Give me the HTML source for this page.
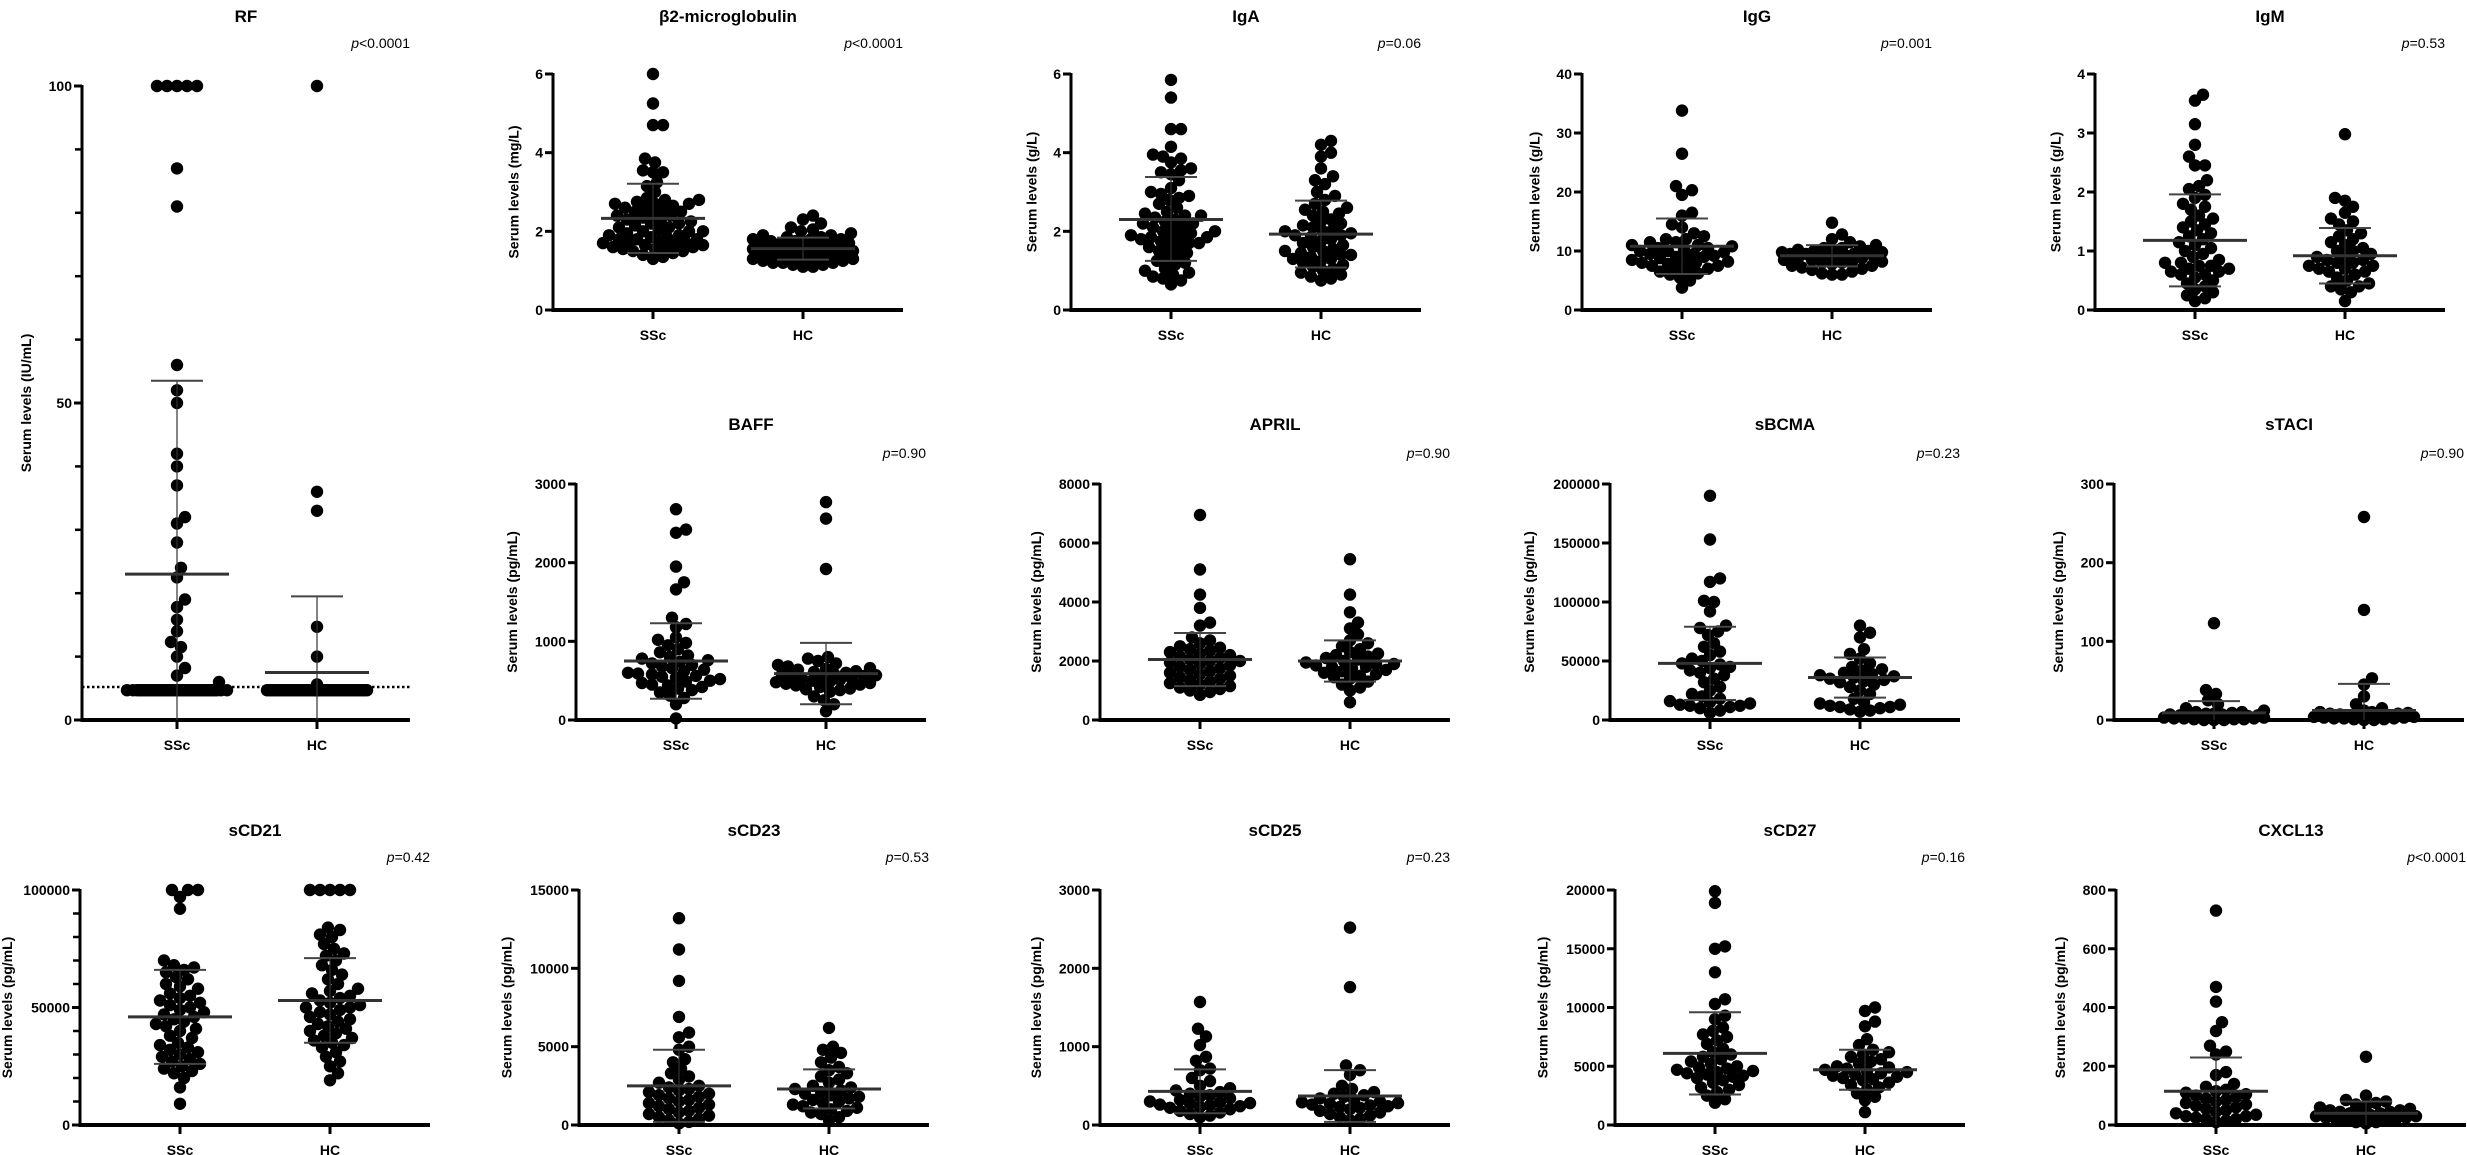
<!DOCTYPE html>
<html><head><meta charset="utf-8"><title>Serum levels SSc vs HC</title>
<style>
html,body{margin:0;padding:0;background:#fff;}
svg{display:block;font-family:"Liberation Sans",Arial,sans-serif;}
.t{font-weight:bold;font-size:17px;text-anchor:middle;}
.p{font-size:14px;text-anchor:end;}
.tk{font-weight:bold;font-size:14px;text-anchor:end;}
.cat{font-weight:bold;font-size:14px;text-anchor:middle;}
.yl{font-weight:bold;font-size:14px;text-anchor:middle;}
</style></head>
<body>
<svg id="fig" width="2467" height="1155" viewBox="0 0 2467 1155" xmlns="http://www.w3.org/2000/svg"></svg>
<script>
// ---------- data ----------
const groups = ["SSc","HC"];
const rf_SSc = [100,100,100,100,100,87,81,56,52,50,42,40,37,32,31,28,24,22.5,19,17.8,15.8,14,12.3,11.5,10,8.2,7,6,4.7,4.7,4.7,4.7,4.7,4.7,4.7,4.7,4.7,4.7,4.7,4.7,4.7,4.7,4.7,4.7,4.7,4.7,4.7,4.7,4.7,4.7,4.7,4.7,4.7,4.7,4.7,4.7,4.7,4.7,4.7,4.7,4.7,4.7,4.7,4.7,4.7,4.7,4.7,4.7,4.7,4.7,4.7,4.7,4.7];
const rf_HC = [100,36,33,14.7,10,5.6,4.7,4.7,4.7,4.7,4.7,4.7,4.7,4.7,4.7,4.7,4.7,4.7,4.7,4.7,4.7,4.7,4.7,4.7,4.7,4.7,4.7,4.7,4.7,4.7,4.7,4.7,4.7,4.7,4.7,4.7,4.7,4.7,4.7,4.7,4.7,4.7,4.7,4.7,4.7,4.7,4.7,4.7,4.7,4.7,4.7,4.7,4.7,4.7,4.7,4.7,4.7,4.7,4.7,4.7,4.7,4.7,4.7,4.7,4.7,4.7];
const b2_SSc = [6.0,5.25,4.7,4.7,3.85,3.75,3.55,3.5,3.5,3.25,3.15,3.0,2.85,2.8,2.8,2.75,2.7,2.7,2.7,2.65,2.6,2.6,2.55,2.5,2.5,2.45,2.4,2.4,2.35,2.3,2.3,2.25,2.2,2.2,2.15,2.1,2.1,2.05,2.0,2.0,2.0,1.95,1.9,1.9,1.85,1.85,1.8,1.8,1.8,1.75,1.75,1.7,1.7,1.7,1.65,1.65,1.6,1.6,1.6,1.55,1.55,1.5,1.5,1.45,1.4,1.35,1.3];
const b2_HC = [2.4,2.3,2.2,2.1,2.05,2.0,1.95,1.9,1.9,1.85,1.85,1.8,1.8,1.8,1.75,1.75,1.75,1.7,1.7,1.7,1.7,1.65,1.65,1.65,1.6,1.6,1.6,1.6,1.55,1.55,1.55,1.5,1.5,1.5,1.5,1.45,1.45,1.45,1.4,1.4,1.4,1.4,1.35,1.35,1.35,1.3,1.3,1.3,1.3,1.25,1.25,1.2,1.2,1.2,1.15,1.15,1.1,1.1];
const iga_SSc = [5.85,5.4,4.6,4.6,4.15,3.95,3.9,3.85,3.75,3.6,3.55,3.5,3.45,3.3,3.1,3.0,2.95,2.9,2.85,2.8,2.7,2.6,2.5,2.45,2.4,2.4,2.35,2.3,2.25,2.2,2.2,2.15,2.1,2.05,2.0,2.0,1.95,1.9,1.9,1.85,1.85,1.8,1.8,1.75,1.7,1.7,1.65,1.6,1.55,1.5,1.45,1.4,1.3,1.25,1.2,1.15,1.05,1.0,0.95,0.9,0.85,0.8,0.75,0.65];
const iga_HC = [4.3,4.2,4.0,3.9,3.6,3.4,3.3,3.2,3.0,2.9,2.8,2.7,2.6,2.55,2.5,2.45,2.4,2.3,2.25,2.2,2.15,2.1,2.05,2.0,2.0,1.95,1.9,1.9,1.85,1.8,1.75,1.7,1.65,1.6,1.55,1.5,1.5,1.45,1.4,1.4,1.35,1.3,1.3,1.25,1.2,1.15,1.1,1.05,1.0,0.95,0.9,0.85,0.8,0.75];
const igg_SSc = [33.8,26.5,21,20.3,19.5,16.5,16,14.5,14,13,12.5,12,12,11.5,11.5,11,11,10.8,10.5,10.5,10.2,10,10,9.8,9.5,9.5,9.2,9,9,8.8,8.5,8.5,8.2,8,8,7.8,7.5,7.5,7.2,7,6.8,6.5,6.2,6,5.5,5,3.8];
const igg_HC = [14.8,12.8,12,11.5,11,10.8,10.5,10.5,10.2,10,10,10,9.8,9.8,9.5,9.5,9.5,9.2,9.2,9,9,9,8.8,8.8,8.5,8.5,8.2,8.2,8,8,7.8,7.5,7.5,7.2,7,6.8,6.5,6.2,6,6];
const igm_SSc = [3.65,3.55,3.15,2.8,2.6,2.45,2.45,2.2,2.1,2.05,1.95,1.9,1.8,1.75,1.7,1.6,1.55,1.5,1.45,1.4,1.35,1.3,1.25,1.2,1.15,1.1,1.05,1.0,0.95,0.9,0.85,0.8,0.8,0.75,0.75,0.7,0.7,0.65,0.65,0.6,0.6,0.55,0.5,0.45,0.4,0.35,0.3,0.25,0.2,0.15];
const igm_HC = [2.98,1.9,1.85,1.75,1.65,1.55,1.5,1.45,1.35,1.3,1.25,1.2,1.15,1.1,1.05,1.0,1.0,0.95,0.9,0.9,0.85,0.85,0.8,0.8,0.75,0.75,0.7,0.7,0.65,0.65,0.6,0.55,0.5,0.45,0.4,0.4,0.35,0.3,0.15];
const baff_SSc = [2680,2420,2380,1950,1750,1660,1300,1220,1180,1050,1020,980,950,900,860,820,800,780,760,740,720,700,680,660,640,620,600,590,580,560,550,540,520,500,490,470,450,440,420,400,380,350,310,280,200,20];
const baff_HC = [2770,2560,1920,800,780,750,720,700,680,660,650,640,620,610,600,590,580,570,560,550,540,530,520,510,500,490,480,470,460,450,440,420,400,390,380,360,300,250,200,110];
const april_SSc = [6950,5100,4250,3800,3300,3200,2800,2700,2600,2500,2450,2400,2350,2300,2250,2200,2150,2100,2050,2000,2000,1950,1900,1850,1800,1750,1700,1650,1600,1550,1500,1450,1400,1350,1300,1250,1200,1150,1100,1050,1000,950,850];
const april_HC = [5450,4250,3650,3300,3100,2900,2700,2600,2500,2400,2300,2250,2200,2150,2100,2050,2000,1950,1900,1900,1850,1800,1800,1750,1700,1650,1600,1550,1500,1450,1400,1300,1200,1100,1000,600];
const bcma_SSc = [190000,153000,120000,117000,101000,100000,92000,80000,78000,75000,72000,65000,62000,58000,55000,52000,50000,48000,47000,45000,44000,42000,40000,38000,35000,32000,28000,25000,22000,20000,18000,16000,15000,14000,13000,12000,12000,11000,10000,8000,6000];
const bcma_HC = [80000,74000,70000,60000,56000,52000,48000,45000,43000,42000,40000,39000,38000,37000,36000,35000,34000,33000,32000,30000,28000,25000,22000,18000,15000,14000,13000,12000,11000,11000,10000,9000,8000,7000];
const taci_SSc = [123,38,33,25,20,15,12,10,10,9,8,8,7,7,6,6,5,5,5,4,4,4,3,3,3,2,2,2,1,1,1,0,0,0];
const taci_HC = [258,140,53,45,30,20,15,12,10,10,9,8,8,7,6,6,5,5,4,4,4,3,3,2,2,2,1,1,0,0];
const cd21_SSc = [100000,100000,100000,97000,92000,70000,68000,67000,66000,65000,63000,62000,60000,59000,58000,56000,55000,54000,53000,52000,51000,50000,49000,48000,47000,46000,45000,44000,43000,42000,41000,40000,38000,37000,35000,34000,33000,32000,31000,30000,29000,28000,27000,26000,25000,24000,23000,22000,20000,16000,9000];
const cd21_HC = [100000,100000,100000,100000,100000,84000,83000,81000,80000,77000,75000,73000,72000,70000,68000,66000,64000,62000,60000,58000,57000,56000,55000,54000,53000,52000,51000,50000,50000,49000,48000,47000,46000,45000,44000,43000,42000,41000,40000,39000,38000,37000,36000,35000,34000,33000,31000,29000,27000,25000,22000,19000];
const cd23_SSc = [13200,11200,9200,6900,5900,5600,5000,4800,4200,4000,3600,3300,3100,2900,2700,2500,2400,2300,2200,2100,2000,1900,1800,1700,1600,1500,1400,1300,1200,1100,1000,900,800,700,600,500,400,300,200,100];
const cd23_HC = [6200,5000,4800,4600,4300,4000,3700,3500,3300,3100,2900,2700,2500,2400,2300,2200,2100,2000,1900,1800,1700,1600,1500,1400,1300,1200,1100,1000,900,800,700,500,300];
const cd25_SSc = [1570,1230,1130,1020,870,820,720,700,600,560,500,470,440,420,400,380,360,340,320,300,290,280,270,260,250,240,230,220,200,180,160,140,120,100];
const cd25_HC = [2520,1760,760,700,640,500,460,420,400,380,360,340,320,300,290,280,270,260,250,240,230,220,200,180,160,140,120,100,80,60];
const cd27_SSc = [19900,18900,15200,15000,13000,10700,10300,9300,9000,8300,8000,7700,7500,7200,6900,6500,6200,6000,5800,5600,5400,5200,5000,4900,4800,4700,4600,4500,4400,4300,4200,4100,4000,3800,3600,3400,3200,3000,2800,2500,2200,1900];
const cd27_HC = [10000,9700,8800,8400,7300,6800,6400,6200,6000,5800,5600,5400,5200,5000,4900,4800,4700,4600,4500,4400,4300,4200,4100,4000,3900,3800,3600,3400,3200,3000,2700,2400,2100,1100];
const cxcl_SSc = [730,470,420,350,320,270,250,240,180,170,140,130,120,115,110,105,100,95,90,85,80,75,70,65,60,55,50,45,40,35,30,30,25,20,20,15,10];
const cxcl_HC = [232,100,85,80,75,70,65,60,55,50,50,45,45,40,40,35,35,30,30,25,25,20,20,15,15,10,10,5];
// mean and SD (upper/lower bar ends) per group
const rf_stats = [[23,53.5,0],[7.5,19.5,0]];
const b2_stats = [[2.33,3.21,1.45],[1.56,1.84,1.28]];
const iga_stats = [[2.3,3.38,1.25],[1.93,2.78,1.08]];
const igg_stats = [[10.8,15.5,6.1],[9.2,11,7.4]];
const igm_stats = [[1.18,1.96,0.4],[0.92,1.39,0.45]];
const baff_stats = [[750,1230,270],[590,980,200]];
const april_stats = [[2050,2950,1150],[2000,2700,1300]];
const bcma_stats = [[48000,79000,17000],[36000,53000,19000]];
const taci_stats = [[9,24,0],[12,46,0]];
const cd21_stats = [[46000,66000,26000],[53000,71000,35000]];
const cd23_stats = [[2500,4800,200],[2300,3550,1050]];
const cd25_stats = [[430,710,150],[370,700,40]];
const cd27_stats = [[6100,9600,2600],[4700,6400,3000]];
const cxcl_stats = [[115,230,0],[40,80,0]];
// ticks
const rf_ticks = [0,50,100];
const b2_ticks = [0,2,4,6];
const iga_ticks = [0,2,4,6];
const igg_ticks = [0,10,20,30,40];
const igm_ticks = [0,1,2,3,4];
const baff_ticks = [0,1000,2000,3000];
const april_ticks = [0,2000,4000,6000,8000];
const bcma_ticks = [0,50000,100000,150000,200000];
const taci_ticks = [0,100,200,300];
const cd21_ticks = [0,50000,100000];
const cd23_ticks = [0,5000,10000,15000];
const cd25_ticks = [0,1000,2000,3000];
const cd27_ticks = [0,5000,10000,15000,20000];
const cxcl_ticks = [0,200,400,600,800];

// ---------- layout ----------
const NS = "http://www.w3.org/2000/svg";
const svg = document.getElementById('fig');
const rows = [{top:74,bot:310,title:22,p:48},{top:484,bot:720,title:430,p:458},{top:890,bot:1125,title:836,p:862}];
const panels = [
 {id:'rf',name:'RF',p:'<0.0001',unit:'(IU/mL)',row:0,ax:82,end:410,cx:[177,317],d:[rf_SSc,rf_HC],st:rf_stats,ticks:rf_ticks,minor:10,dotted:5.2,tall:true},
 {id:'b2',name:'β2-microglobulin',p:'<0.0001',unit:'(mg/L)',row:0,ax:553,d:[b2_SSc,b2_HC],st:b2_stats,ticks:b2_ticks},
 {id:'iga',name:'IgA',p:'=0.06',unit:'(g/L)',row:0,ax:1071,d:[iga_SSc,iga_HC],st:iga_stats,ticks:iga_ticks},
 {id:'igg',name:'IgG',p:'=0.001',unit:'(g/L)',row:0,ax:1582,d:[igg_SSc,igg_HC],st:igg_stats,ticks:igg_ticks},
 {id:'igm',name:'IgM',p:'=0.53',unit:'(g/L)',row:0,ax:2095,d:[igm_SSc,igm_HC],st:igm_stats,ticks:igm_ticks},
 {id:'baff',name:'BAFF',p:'=0.90',unit:'(pg/mL)',row:1,ax:576,d:[baff_SSc,baff_HC],st:baff_stats,ticks:baff_ticks},
 {id:'april',name:'APRIL',p:'=0.90',unit:'(pg/mL)',row:1,ax:1100,d:[april_SSc,april_HC],st:april_stats,ticks:april_ticks},
 {id:'sbcma',name:'sBCMA',p:'=0.23',unit:'(pg/mL)',row:1,ax:1610,d:[bcma_SSc,bcma_HC],st:bcma_stats,ticks:bcma_ticks},
 {id:'staci',name:'sTACI',p:'=0.90',unit:'(pg/mL)',row:1,ax:2114,d:[taci_SSc,taci_HC],st:taci_stats,ticks:taci_ticks},
 {id:'scd21',name:'sCD21',p:'=0.42',unit:'(pg/mL)',row:2,ax:80,d:[cd21_SSc,cd21_HC],st:cd21_stats,ticks:cd21_ticks,minor:10000},
 {id:'scd23',name:'sCD23',p:'=0.53',unit:'(pg/mL)',row:2,ax:579,d:[cd23_SSc,cd23_HC],st:cd23_stats,ticks:cd23_ticks},
 {id:'scd25',name:'sCD25',p:'=0.23',unit:'(pg/mL)',row:2,ax:1100,d:[cd25_SSc,cd25_HC],st:cd25_stats,ticks:cd25_ticks},
 {id:'scd27',name:'sCD27',p:'=0.16',unit:'(pg/mL)',row:2,ax:1615,d:[cd27_SSc,cd27_HC],st:cd27_stats,ticks:cd27_ticks},
 {id:'cxcl13',name:'CXCL13',p:'<0.0001',unit:'(pg/mL)',row:2,ax:2116,d:[cxcl_SSc,cxcl_HC],st:cxcl_stats,ticks:cxcl_ticks}
];

function mk(tag, attrs, parent){
  const e = document.createElementNS(NS, tag);
  for (const k in attrs) e.setAttribute(k, attrs[k]);
  (parent||svg).appendChild(e);
  return e;
}
const R = 6.2;

function swarm(vals, cx, yf, maxHalf){
  const order = vals.map((v,i)=>i).sort((a,b)=>vals[a]-vals[b]);
  const placed = [];
  const out = [];
  const minD = 2*R*0.8;
  for (const i of order){
    const y = yf(vals[i]);
    let best = null, bestScore = -1;
    for (let k=0;k<=Math.ceil(maxHalf/2);k++){
      for (const s of (k===0?[0]:[k*2,-k*2])){
        let md = 1e9;
        for (const p of placed){
          const dy = p[1]-y; if (Math.abs(dy) > minD) continue;
          const d = Math.hypot(p[0]-(cx+s), dy); if (d<md) md=d;
        }
        if (md >= minD){ best = s; bestScore = 1e9; break; }
        if (md > bestScore){ bestScore = md; best = s; }
      }
      if (bestScore === 1e9) break;
    }
    placed.push([cx+best, y]);
    out.push([cx+best, y]);
  }
  return out;
}

panels.forEach(P=>{
  const r = rows[P.row];
  const top = P.tall ? 86 : r.top;
  const bot = P.tall ? 720 : r.bot;
  const end = P.end || P.ax+350;
  const cx = P.cx || [P.ax+100, P.ax+250];
  const yMax = P.ticks[P.ticks.length-1];
  const yf = v => bot - (v / yMax) * (bot - top);
  const g = mk('g', {});
  
  

  const t = mk('text', {x:(P.ax+end)/2, y: P.tall ? 22 : r.title, class:'t'}, g);
  t.textContent = P.name;
  
  

  const pv = mk('text', {x:end, y: P.tall ? 48 : r.p, class:'p'}, g);
  
  
  const ps = mk('tspan', {'font-style':'italic'}, pv); ps.textContent = 'p';
  const ps2 = mk('tspan', {}, pv); ps2.textContent = P.p;

  const ya = mk('line', {x1:P.ax, y1:top-1, x2:P.ax, y2:bot+1.5, stroke:'#000','stroke-width':3}, g);
  
  
  if (P.minor){
    for (let v=0; v<=yMax; v+=P.minor){
      mk('line', {x1:P.ax-7, y1:yf(v), x2:P.ax, y2:yf(v), stroke:'#000','stroke-width':2.5}, g);
    }
  }
  let maxLen = 0;
  P.ticks.forEach(v=>{
    mk('line', {x1:P.ax-8, y1:yf(v), x2:P.ax, y2:yf(v), stroke:'#000','stroke-width':3}, g);
    const tl = mk('text', {x:P.ax-10, y:yf(v)+5, class:'tk'}, g);
    tl.textContent = String(v);
    
    
    maxLen = Math.max(maxLen, String(v).length);
  });
  const lx = Math.max(12, P.ax - 14 - maxLen*8.3 - 12);
  const ly = (top+bot)/2;
  const yl = mk('text', {x:lx, y:ly, class:'yl', transform:`rotate(-90 ${lx} ${ly})`}, g);
  yl.textContent = 'Serum levels ' + P.unit;
  
  

  const xa = mk('line', {x1:P.ax-1.5, y1:bot, x2:end, y2:bot, stroke:'#000','stroke-width':4}, g);
  
  
  groups.forEach((gname,gi)=>{
    mk('line', {x1:cx[gi], y1:bot, x2:cx[gi], y2:bot+9, stroke:'#000','stroke-width':3}, g);
    const cl = mk('text', {x:cx[gi], y:bot+30, class:'cat'}, g);
    cl.textContent = gname;
    
    
  });

  if (P.dotted !== undefined){
    const dl = mk('line', {x1:P.ax, y1:yf(P.dotted), x2:end, y2:yf(P.dotted), stroke:'#000','stroke-width':2.5,'stroke-dasharray':'2.5,2.5'}, g);
    
    
  }

  groups.forEach((gname,gi)=>{
    const pts = swarm(P.d[gi], cx[gi], yf, 50);
    pts.forEach(pt=>{
      const c = mk('circle', {cx:pt[0].toFixed(1), cy:pt[1].toFixed(1), r:R, fill:'#000'}, g);
      
      
    });
    const s = P.st[gi];
    const sd = mk('line', {x1:cx[gi], y1:yf(s[2]), x2:cx[gi], y2:yf(s[1]), stroke:'#333','stroke-width':1.2}, g);
    
    
    [s[1], s[2]].forEach(v=>{
      if (v <= 0) return;
      mk('line', {x1:cx[gi]-26, y1:yf(v), x2:cx[gi]+26, y2:yf(v), stroke:'#444','stroke-width':2}, g);
    });
    const m = mk('line', {x1:cx[gi]-52, y1:yf(s[0]), x2:cx[gi]+52, y2:yf(s[0]), stroke:'#333','stroke-width':3}, g);
    
    
  });
});
</script>
</body></html>
